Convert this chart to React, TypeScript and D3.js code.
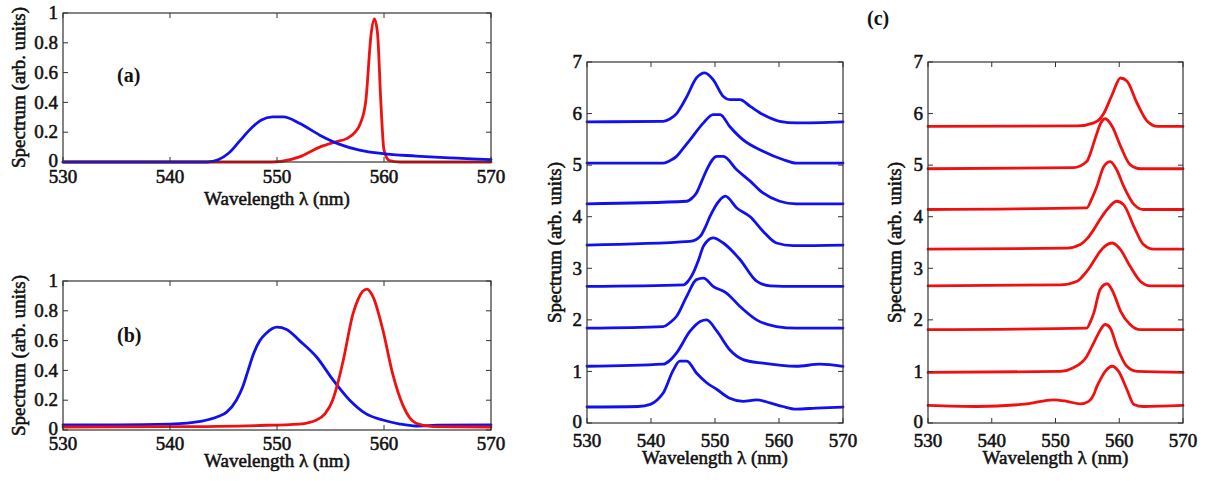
import React from 'react'
import * as d3 from 'd3'

type Pt = [number, number]

// x axis is the same in every panel
const wlTicks = [530, 540, 550, 560, 570]
const unitTicks = [0, 0.2, 0.4, 0.6, 0.8, 1]
const stackTicks = [0, 1, 2, 3, 4, 5, 6, 7]

// panel (a)
const aBlue: Pt[] = [[530, 0], [543.5, 0], [544.5, 0.015], [545.5, 0.06], [546.5, 0.14], [547.5, 0.22], [548.5, 0.28], [549.6, 0.303], [550.6, 0.303], [552.1, 0.26], [554, 0.18], [555.8, 0.12], [557.7, 0.08], [559.9, 0.056], [563, 0.04], [566.1, 0.027], [570, 0.016]]
const aRed: Pt[] = [[530, 0], [549.5, 0], [550.5, 0.005], [552.1, 0.034], [554, 0.1], [555.5, 0.135], [556.5, 0.157], [557.3, 0.2], [557.8, 0.26], [558.3, 0.41], [558.8, 0.86], [559.1, 0.96], [559.4, 0.86], [559.7, 0.41], [560, 0.08], [560.5, 0.01], [561.5, 0], [570, 0]]

// panel (b)
const bBlue: Pt[] = [[530, 0.035], [535, 0.035], [540, 0.04], [543, 0.06], [544.5, 0.09], [545.3, 0.12], [546.2, 0.2], [546.8, 0.29], [547.3, 0.4], [547.8, 0.51], [548.4, 0.6], [549, 0.65], [550, 0.69], [550.9, 0.675], [552.1, 0.6], [553.7, 0.49], [555.2, 0.34], [556.8, 0.2], [558.3, 0.11], [559.9, 0.067], [561.5, 0.04], [563, 0.027], [565, 0.032], [570, 0.035]]
const bRed: Pt[] = [[530, 0.02], [540, 0.022], [548, 0.03], [552.1, 0.04], [553.7, 0.067], [554.5, 0.11], [555.2, 0.2], [555.7, 0.32], [556.2, 0.47], [557.1, 0.78], [557.6, 0.88], [558, 0.93], [558.4, 0.946], [559, 0.89], [559.9, 0.67], [560.8, 0.38], [561.8, 0.16], [563, 0.045], [564.6, 0.022], [570, 0.02]]

// panel (c), stacked spectra, bottom to top
const cBlue: Pt[][] = [
  [[530, 0.31], [538, 0.32], [539.9, 0.36], [541, 0.45], [541.9, 0.58], [543.5, 1.03], [544.5, 1.2], [545.6, 1.2], [547.1, 0.97], [548.7, 0.78], [550.3, 0.65], [552.3, 0.48], [554.4, 0.42], [556.5, 0.45], [558.6, 0.39], [560.6, 0.32], [562.7, 0.27], [565.8, 0.29], [570, 0.31]],
  [[530, 1.1], [541.9, 1.14], [543, 1.22], [544, 1.36], [546.1, 1.78], [547.7, 1.97], [548.7, 2.0], [550.3, 1.78], [552.3, 1.42], [554.4, 1.23], [557.5, 1.16], [562.7, 1.1], [566.4, 1.14], [570, 1.1]],
  [[530, 1.84], [541.9, 1.87], [543, 1.95], [544, 2.07], [545.6, 2.46], [547.1, 2.78], [548.2, 2.81], [549.7, 2.65], [551.8, 2.52], [553.9, 2.26], [556.5, 2.0], [559.6, 1.87], [562.7, 1.84], [570, 1.84]],
  [[530, 2.65], [545.1, 2.68], [545.8, 2.75], [546.6, 2.91], [547.4, 3.15], [548.2, 3.43], [549.7, 3.59], [551.3, 3.49], [553.9, 3.17], [556.5, 2.75], [558.6, 2.66], [562.7, 2.65], [570, 2.65]],
  [[530, 3.45], [546.1, 3.52], [547.7, 3.62], [548.5, 3.8], [549.2, 4.0], [550.8, 4.33], [551.6, 4.4], [553.4, 4.17], [555.5, 4.0], [557.5, 3.72], [559.6, 3.49], [562.2, 3.44], [570, 3.45]],
  [[530, 4.25], [545.6, 4.3], [546.4, 4.36], [547.1, 4.46], [547.9, 4.68], [548.7, 4.91], [550.3, 5.17], [551.3, 5.17], [553.4, 4.91], [555.5, 4.69], [557.5, 4.46], [560.1, 4.3], [562.7, 4.25], [570, 4.25]],
  [[530, 5.04], [541.9, 5.04], [543, 5.09], [544, 5.17], [545, 5.32], [546.1, 5.49], [548.2, 5.82], [549.7, 5.98], [550.8, 5.98], [552.3, 5.75], [554.4, 5.49], [557.5, 5.27], [560.6, 5.11], [562.7, 5.04], [570, 5.04]],
  [[530, 5.84], [541.9, 5.85], [543, 5.9], [544, 6.0], [544.8, 6.15], [545.6, 6.33], [547.1, 6.69], [548.4, 6.79], [549.7, 6.66], [551.3, 6.33], [552.3, 6.27], [553.9, 6.27], [555.5, 6.14], [557.5, 5.98], [560.1, 5.85], [562.7, 5.82], [570, 5.84]],
]
const cRed: Pt[][] = [
  [[530, 0.34], [537.7, 0.32], [545.5, 0.37], [549.7, 0.45], [551.8, 0.42], [553.9, 0.37], [555.2, 0.42], [556, 0.55], [556.5, 0.71], [557.2, 0.88], [557.8, 1.0], [558.9, 1.1], [559.9, 1.0], [561.2, 0.65], [562.3, 0.36], [563.8, 0.32], [570, 0.34]],
  [[530, 0.98], [550.8, 1.0], [552.8, 1.07], [554.9, 1.29], [555.7, 1.48], [556.5, 1.68], [557.8, 1.91], [558.6, 1.84], [559.6, 1.49], [561.2, 1.1], [562.8, 1.0], [570, 0.98]],
  [[530, 1.81], [554.9, 1.84], [555.5, 1.97], [556, 2.13], [557, 2.59], [558.1, 2.7], [559.1, 2.52], [560.2, 2.17], [561.7, 1.91], [563.3, 1.81], [570, 1.81]],
  [[530, 2.66], [550.8, 2.68], [553.4, 2.75], [554.5, 2.88], [555.5, 3.04], [556.3, 3.2], [557, 3.33], [558.9, 3.49], [560.2, 3.36], [561.7, 3.04], [563.3, 2.75], [564.9, 2.66], [570, 2.66]],
  [[530, 3.37], [551.8, 3.39], [553.9, 3.46], [555, 3.58], [556, 3.75], [557, 3.95], [558.1, 4.14], [559.6, 4.3], [560.7, 4.23], [562.3, 3.81], [563.8, 3.46], [565.4, 3.37], [570, 3.37]],
  [[530, 4.14], [554.9, 4.17], [555.7, 4.35], [556.5, 4.59], [557.6, 4.98], [558.6, 5.07], [559.6, 4.91], [560.7, 4.59], [562.3, 4.24], [563.8, 4.14], [570, 4.14]],
  [[530, 4.93], [552.8, 4.95], [554.9, 5.07], [555.5, 5.24], [556, 5.43], [556.5, 5.62], [557, 5.79], [557.8, 5.9], [558.9, 5.75], [560.2, 5.37], [561.7, 5.01], [563.3, 4.93], [570, 4.93]],
  [[530, 5.75], [553.4, 5.76], [556, 5.82], [557, 5.9], [557.6, 6.01], [558.9, 6.37], [560.2, 6.69], [561.2, 6.63], [562.8, 6.2], [564.4, 5.85], [566, 5.75], [570, 5.75]],
]

const BLUE = '#1010f0'
const RED = '#f01010'
const INK = '#111'
const FONT = '"Liberation Serif", "Times New Roman", serif'

interface PanelProps {
  left: number
  right: number
  top: number
  bottom: number
  yMax: number
  yTicks: number[]
  series: { pts: Pt[]; color: string }[]
  yLabelGap: number
  xTickGap: number
  xLabelGap: number
}

// text gets a thin outline so it reads as heavy as the scanned figure
const txt = { fontSize: 19, fill: INK, stroke: INK, strokeWidth: 0.55 }

function Panel({ left, right, top, bottom, yMax, yTicks, series, yLabelGap, xTickGap, xLabelGap }: PanelProps) {
  const x = d3.scaleLinear().domain([530, 570]).range([left, right])
  const y = d3.scaleLinear().domain([0, yMax]).range([bottom, top])
  const line = d3.line<Pt>()
    .x(d => x(d[0]))
    .y(d => y(d[1]))
    .curve(d3.curveMonotoneX)
  const tk = 5

  return (
    <g>
      {series.map((s, i) => (
        <path key={i} d={line(s.pts) || ''} fill="none" stroke={s.color}
          strokeWidth={2.8} strokeLinejoin="round" strokeLinecap="round" />
      ))}
      <rect x={left} y={top} width={right - left} height={bottom - top}
        fill="none" stroke="#333" strokeWidth={1.2} />
      {wlTicks.map(t => (
        <g key={'x' + t}>
          <line x1={x(t)} x2={x(t)} y1={bottom} y2={bottom - tk} stroke="#333" strokeWidth={1} />
          <line x1={x(t)} x2={x(t)} y1={top} y2={top + tk} stroke="#333" strokeWidth={1} />
          <text x={x(t)} y={bottom + xTickGap} textAnchor="middle" {...txt}>{t}</text>
        </g>
      ))}
      {yTicks.map(t => (
        <g key={'y' + t}>
          <line x1={left} x2={left + tk} y1={y(t)} y2={y(t)} stroke="#333" strokeWidth={1} />
          <line x1={right} x2={right - tk} y1={y(t)} y2={y(t)} stroke="#333" strokeWidth={1} />
          <text x={left - 5} y={y(t) - (t === 0 ? 1 : 0)} dy="0.33em" textAnchor="end" {...txt}>{String(t)}</text>
        </g>
      ))}
      <text x={(left + right) / 2} y={bottom + xLabelGap} textAnchor="middle" {...txt}>
        Wavelength λ (nm)
      </text>
      <text transform={`translate(${left - yLabelGap},${(top + bottom) / 2}) rotate(-90)`}
        textAnchor="middle" {...txt}>
        Spectrum (arb. units)
      </text>
    </g>
  )
}

export default function App() {
  return (
    <svg width={1206} height={481} style={{ display: 'block', position: 'absolute', left: 0, top: 0, background: '#fff' }}
      fontFamily={FONT}>
      <Panel left={63} right={491} top={13} bottom={162} yMax={1} yTicks={unitTicks}
        series={[{ pts: aRed, color: RED }, { pts: aBlue, color: BLUE }]}
        yLabelGap={38} xTickGap={21} xLabelGap={43} />
      <Panel left={63} right={491} top={281} bottom={430} yMax={1} yTicks={unitTicks}
        series={[{ pts: bBlue, color: BLUE }, { pts: bRed, color: RED }]}
        yLabelGap={38} xTickGap={20} xLabelGap={37} />
      <Panel left={587} right={843} top={62} bottom={423} yMax={7} yTicks={stackTicks}
        series={cBlue.map(pts => ({ pts, color: BLUE }))}
        yLabelGap={26} xTickGap={24} xLabelGap={41} />
      <Panel left={928} right={1183} top={62} bottom={423} yMax={7} yTicks={stackTicks}
        series={cRed.map(pts => ({ pts, color: RED }))}
        yLabelGap={27} xTickGap={24} xLabelGap={41} />
      <text x={117} y={82} fontSize={20} fontWeight="bold" fill={INK}>(a)</text>
      <text x={117} y={342} fontSize={20} fontWeight="bold" fill={INK}>(b)</text>
      <text x={867} y={25} fontSize={20} fontWeight="bold" fill={INK}>(c)</text>
    </svg>
  )
}
